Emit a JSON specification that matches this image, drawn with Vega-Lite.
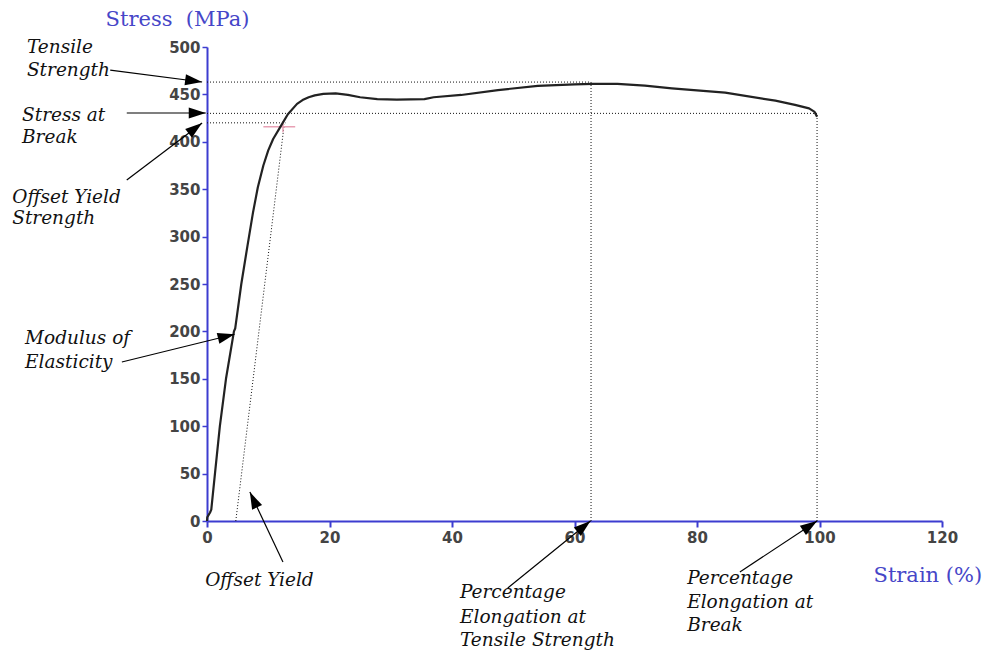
{
  "$schema": "https://vega.github.io/schema/vega-lite/v6.json",
  "width": 735,
  "height": 474,
  "autosize": {"type": "none"},
  "padding": {"left": 207, "top": 47, "right": 55, "bottom": 130},
  "background": "white",
  "config": {"view": {"stroke": null}},
  "datasets": {
    "curve": [
      {"strain": 0, "stress": 0},
      {"strain": 0.05, "stress": 4},
      {"strain": 0.5, "stress": 9},
      {"strain": 0.7, "stress": 12},
      {"strain": 1.3, "stress": 50},
      {"strain": 2.1, "stress": 100},
      {"strain": 3.1, "stress": 150},
      {"strain": 4.4, "stress": 200},
      {"strain": 4.6, "stress": 203},
      {"strain": 5.6, "stress": 250},
      {"strain": 6.6, "stress": 290},
      {"strain": 7.5, "stress": 325},
      {"strain": 8.3, "stress": 352},
      {"strain": 9.2, "stress": 375},
      {"strain": 10.0, "stress": 391},
      {"strain": 10.8, "stress": 403},
      {"strain": 12.0, "stress": 416},
      {"strain": 13.2, "stress": 429},
      {"strain": 14.7, "stress": 440},
      {"strain": 15.6, "stress": 444},
      {"strain": 16.6, "stress": 447},
      {"strain": 17.6, "stress": 449},
      {"strain": 19.0, "stress": 450.5},
      {"strain": 21.0, "stress": 451},
      {"strain": 23.0, "stress": 449.5},
      {"strain": 25.0, "stress": 447},
      {"strain": 27.8, "stress": 445},
      {"strain": 31.0, "stress": 444.5},
      {"strain": 35.5, "stress": 445},
      {"strain": 37.0, "stress": 447},
      {"strain": 41.5, "stress": 449.4},
      {"strain": 47.5, "stress": 454.6},
      {"strain": 54.0, "stress": 458.9},
      {"strain": 60.0, "stress": 460.6},
      {"strain": 63.0, "stress": 461},
      {"strain": 67.0, "stress": 461},
      {"strain": 71.5, "stress": 459.2},
      {"strain": 75.9, "stress": 456.4},
      {"strain": 84.6, "stress": 451.8},
      {"strain": 92.8, "stress": 443.4},
      {"strain": 96.0, "stress": 439},
      {"strain": 98.3, "stress": 435.3},
      {"strain": 99.2, "stress": 431.5},
      {"strain": 99.6, "stress": 426.5}
    ],
    "guides": [
      {"strain": 0, "stress": 463, "strain2": 62.7, "stress2": 463},
      {"strain": 62.7, "stress": 0, "strain2": 62.7, "stress2": 463},
      {"strain": 0, "stress": 430, "strain2": 99.6, "stress2": 430},
      {"strain": 99.6, "stress": 0, "strain2": 99.6, "stress2": 430},
      {"strain": 0, "stress": 420, "strain2": 12.8, "stress2": 420},
      {"strain": 4.7, "stress": 0, "strain2": 12.6, "stress2": 418}
    ],
    "yieldMark": [
      {"strain": 9.2, "stress": 416, "strain2": 14.4, "stress2": 416},
      {"strain": 12.4, "stress": 410, "strain2": 12.4, "stress2": 422}
    ],
    "arrows": [
      {"id": "ts", "strain": -15.8, "stress": 475.7, "strain2": -0.8, "stress2": 463.1},
      {"id": "sb", "strain": -13.1, "stress": 430.4, "strain2": -0.2, "stress2": 430.4},
      {"id": "oys", "strain": -13.1, "stress": 359.7, "strain2": -0.8, "stress2": 419.8},
      {"id": "me", "strain": -13.9, "stress": 167.7, "strain2": 4.5, "stress2": 197},
      {"id": "oy", "strain": 12.4, "stress": -43.2, "strain2": 7.0, "stress2": 30.6},
      {"id": "pts", "strain": 49.1, "stress": -70.7, "strain2": 62.6, "stress2": 0},
      {"id": "pb", "strain": 87.0, "stress": -53.8, "strain2": 99.6, "stress2": 0}
    ],
    "labels": [
      {"text": "Tensile", "strain": -29.4, "stress": 500},
      {"text": "Strength", "strain": -29.4, "stress": 475.7},
      {"text": "Stress at", "strain": -30.2, "stress": 428.3},
      {"text": "Break", "strain": -30.2, "stress": 405.1},
      {"text": "Offset Yield", "strain": -31.8, "stress": 341.8},
      {"text": "Strength", "strain": -31.8, "stress": 319.6},
      {"text": "Modulus of", "strain": -29.7, "stress": 193},
      {"text": "Elasticity", "strain": -29.7, "stress": 167.7},
      {"text": "Offset Yield", "strain": -0.3, "stress": -62.2},
      {"text": "Percentage", "strain": 41.3, "stress": -74.9},
      {"text": "Elongation at", "strain": 41.3, "stress": -101.3},
      {"text": "Tensile Strength", "strain": 41.3, "stress": -125.5},
      {"text": "Percentage", "strain": 78.4, "stress": -60.1},
      {"text": "Elongation at", "strain": 78.4, "stress": -85.4},
      {"text": "Break", "strain": 78.4, "stress": -109.7}
    ]
  },
  "encoding": {
    "x": {
      "field": "strain", "type": "quantitative",
      "scale": {"domain": [0, 120], "nice": false, "zero": false},
      "axis": {
        "title": "Strain (%)", "titleX": 666, "titleY": 54, "titleAlign": "left", "titleBaseline": "middle",
        "titleFont": "DejaVu Serif", "titleFontSize": 21, "titleFontWeight": "normal", "titleColor": "#4646c8",
        "values": [0, 20, 40, 60, 80, 100, 120], "grid": false, "labelFlush": false,
        "labelFont": "DejaVu Sans", "labelFontWeight": "bold", "labelFontSize": 15, "labelColor": "#444444", "labelPadding": 3,
        "domainColor": "#3c3cd0", "domainWidth": 2, "tickColor": "#3c3cd0", "tickWidth": 2, "tickSize": 6
      }
    },
    "y": {
      "field": "stress", "type": "quantitative",
      "scale": {"domain": [0, 500], "nice": false, "zero": false},
      "axis": {
        "title": "Stress\u00a0\u00a0(MPa)", "titleAngle": 0, "titleX": -30, "titleY": -28, "titleAlign": "center", "titleBaseline": "middle",
        "titleFont": "DejaVu Serif", "titleFontSize": 21, "titleFontWeight": "normal", "titleColor": "#4646c8",
        "values": [0, 50, 100, 150, 200, 250, 300, 350, 400, 450, 500], "grid": false, "labelFlush": false,
        "labelFont": "DejaVu Sans", "labelFontWeight": "bold", "labelFontSize": 15, "labelColor": "#444444", "labelPadding": 2,
        "domainColor": "#3c3cd0", "domainWidth": 2, "tickColor": "#3c3cd0", "tickWidth": 1.5, "tickSize": 5
      }
    }
  },
  "layer": [
    {
      "data": {"name": "guides"},
      "mark": {"type": "rule", "color": "#111111", "strokeWidth": 1, "strokeDash": [1, 2]},
      "encoding": {"x2": {"field": "strain2"}, "y2": {"field": "stress2"}}
    },
    {
      "data": {"name": "yieldMark"},
      "mark": {"type": "rule", "color": "#e8a0b4", "strokeWidth": 1.5},
      "encoding": {"x2": {"field": "strain2"}, "y2": {"field": "stress2"}}
    },
    {
      "data": {"name": "curve"},
      "mark": {"type": "line", "color": "#222222", "strokeWidth": 2.2, "interpolate": "linear", "strokeJoin": "round"},
      "encoding": {}
    },
    {
      "data": {"name": "arrows"},
      "mark": {"type": "rule", "color": "#000000", "strokeWidth": 1.2},
      "encoding": {"x2": {"field": "strain2"}, "y2": {"field": "stress2"}}
    },
    {
      "data": {"name": "arrows"},
      "transform": [{"filter": {"field": "id", "equal": "ts"}}],
      "mark": {"type": "point", "shape": "M0,0L-0.65,2L0.65,2Z", "size": 289, "filled": true, "color": "#000000", "opacity": 1, "angle": 97.4},
      "encoding": {"x": {"field": "strain2", "type": "quantitative"}, "y": {"field": "stress2", "type": "quantitative"}}
    },
    {
      "data": {"name": "arrows"},
      "transform": [{"filter": {"field": "id", "equal": "sb"}}],
      "mark": {"type": "point", "shape": "M0,0L-0.65,2L0.65,2Z", "size": 289, "filled": true, "color": "#000000", "opacity": 1, "angle": 90},
      "encoding": {"x": {"field": "strain2", "type": "quantitative"}, "y": {"field": "stress2", "type": "quantitative"}}
    },
    {
      "data": {"name": "arrows"},
      "transform": [{"filter": {"field": "id", "equal": "oys"}}],
      "mark": {"type": "point", "shape": "M0,0L-0.65,2L0.65,2Z", "size": 289, "filled": true, "color": "#000000", "opacity": 1, "angle": 52.8},
      "encoding": {"x": {"field": "strain2", "type": "quantitative"}, "y": {"field": "stress2", "type": "quantitative"}}
    },
    {
      "data": {"name": "arrows"},
      "transform": [{"filter": {"field": "id", "equal": "me"}}],
      "mark": {"type": "point", "shape": "M0,0L-0.65,2L0.65,2Z", "size": 289, "filled": true, "color": "#000000", "opacity": 1, "angle": 76},
      "encoding": {"x": {"field": "strain2", "type": "quantitative"}, "y": {"field": "stress2", "type": "quantitative"}}
    },
    {
      "data": {"name": "arrows"},
      "transform": [{"filter": {"field": "id", "equal": "oy"}}],
      "mark": {"type": "point", "shape": "M0,0L-0.65,2L0.65,2Z", "size": 289, "filled": true, "color": "#000000", "opacity": 1, "angle": -25.2},
      "encoding": {"x": {"field": "strain2", "type": "quantitative"}, "y": {"field": "stress2", "type": "quantitative"}}
    },
    {
      "data": {"name": "arrows"},
      "transform": [{"filter": {"field": "id", "equal": "pts"}}],
      "mark": {"type": "point", "shape": "M0,0L-0.65,2L0.65,2Z", "size": 289, "filled": true, "color": "#000000", "opacity": 1, "angle": 50.3},
      "encoding": {"x": {"field": "strain2", "type": "quantitative"}, "y": {"field": "stress2", "type": "quantitative"}}
    },
    {
      "data": {"name": "arrows"},
      "transform": [{"filter": {"field": "id", "equal": "pb"}}],
      "mark": {"type": "point", "shape": "M0,0L-0.65,2L0.65,2Z", "size": 289, "filled": true, "color": "#000000", "opacity": 1, "angle": 56.3},
      "encoding": {"x": {"field": "strain2", "type": "quantitative"}, "y": {"field": "stress2", "type": "quantitative"}}
    },
    {
      "data": {"name": "labels"},
      "mark": {"type": "text", "font": "DejaVu Serif", "fontStyle": "italic", "fontSize": 18.5, "align": "left", "baseline": "middle", "color": "#111111"},
      "encoding": {"text": {"field": "text"}}
    }
  ]
}
